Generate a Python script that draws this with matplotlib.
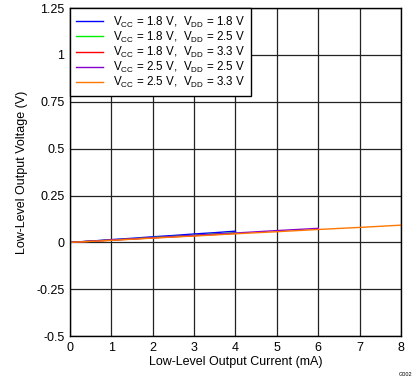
import numpy as np
import matplotlib.pyplot as plt

plt.rcParams['font.family'] = ['Liberation Sans', 'DejaVu Sans']

# data (I in mA, V in V)
i_18 = [0, 0.5, 1, 1.5, 2, 2.5, 3, 3.5, 4]
v_18_18 = [0, 0.007, 0.015, 0.022, 0.030, 0.037, 0.045, 0.052, 0.060]
v_18_25 = [0, 0.006, 0.013, 0.019, 0.026, 0.032, 0.038, 0.045, 0.051]
v_18_33 = [0, 0.006, 0.012, 0.018, 0.024, 0.030, 0.036, 0.042, 0.048]
i_25_25 = [0, 1, 2, 3, 4, 5, 6]
v_25_25 = [0, 0.013, 0.025, 0.038, 0.050, 0.063, 0.075]
i_25_33 = [0, 1, 2, 3, 4, 5, 6, 7, 8]
v_25_33 = [0, 0.011, 0.023, 0.034, 0.046, 0.057, 0.069, 0.080, 0.092]

labels = [r'$\mathregular{V_{CC}}$ = 1.8 V,  $\mathregular{V_{DD}}$ = 1.8 V',
          r'$\mathregular{V_{CC}}$ = 1.8 V,  $\mathregular{V_{DD}}$ = 2.5 V',
          r'$\mathregular{V_{CC}}$ = 1.8 V,  $\mathregular{V_{DD}}$ = 3.3 V',
          r'$\mathregular{V_{CC}}$ = 2.5 V,  $\mathregular{V_{DD}}$ = 2.5 V',
          r'$\mathregular{V_{CC}}$ = 2.5 V,  $\mathregular{V_{DD}}$ = 3.3 V']
colors = ['#0000ff', '#00ee00', '#ff0000', '#8800cc', '#ff7700']

fig = plt.figure(figsize=(4.19, 3.82), dpi=100)
ax = fig.add_axes([0.167, 0.120, 0.790, 0.859])

ax.plot(i_18, v_18_18, color=colors[0], lw=1, label=labels[0])
ax.plot(i_18, v_18_25, color=colors[1], lw=1, label=labels[1])
ax.plot(i_18, v_18_33, color=colors[2], lw=1, label=labels[2])
ax.plot(i_25_25, v_25_25, color=colors[3], lw=1, label=labels[3])
ax.plot(i_25_33, v_25_33, color=colors[4], lw=1, label=labels[4])

ax.set_xlim(0, 8)
ax.set_ylim(-0.5, 1.25)
ax.set_xticks(range(0, 9))
ax.set_yticks([-0.5, -0.25, 0, 0.25, 0.5, 0.75, 1, 1.25])
ax.set_yticklabels(['-0.5', '-0.25', '0', '0.25', '0.5', '0.75', '1', '1.25'])
ax.grid(True, color='#222222', lw=0.9)
ax.tick_params(length=0, labelsize=9, pad=4)
for s in ax.spines.values():
    s.set_color('black')
    s.set_linewidth(1)

ax.set_xlabel('Low-Level Output Current (mA)', fontsize=9, labelpad=2)
ax.set_ylabel('Low-Level Output Voltage (V)', fontsize=9, labelpad=6)

leg = ax.legend(loc='upper left', fontsize=8.4, frameon=True, fancybox=False,
                handlelength=2.3, labelspacing=0.0, borderaxespad=0.0,
                borderpad=0.55, handletextpad=0.8)
leg.get_frame().set_edgecolor('black')
leg.get_frame().set_linewidth(1)
leg.get_frame().set_alpha(1)

fig.text(0.985, 0.012, 'G002', fontsize=4, ha='right', va='bottom')

fig.savefig('out.png', dpi=100)
